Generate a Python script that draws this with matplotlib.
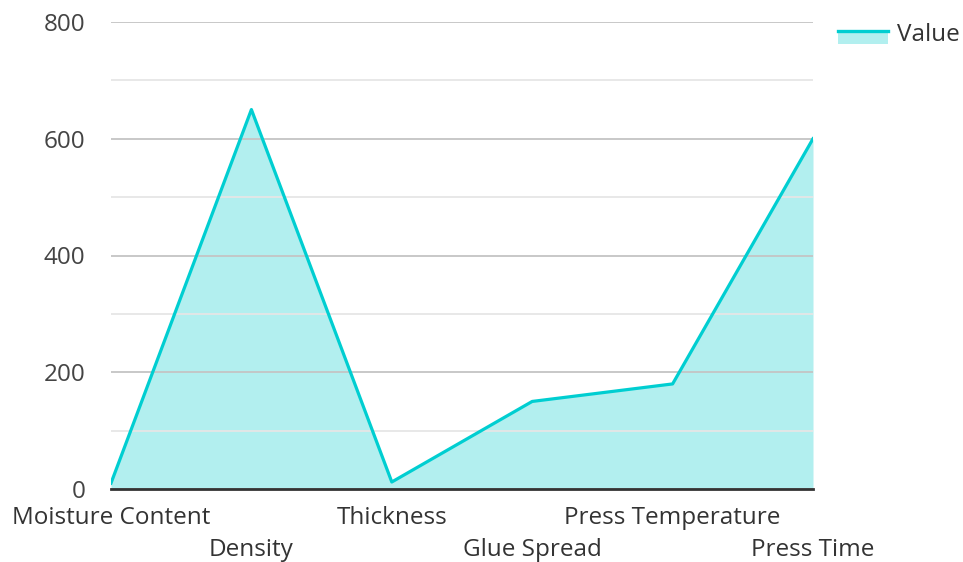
import matplotlib
matplotlib.use("Agg")
import matplotlib.pyplot as plt
from matplotlib.legend_handler import HandlerBase
from matplotlib.patches import Rectangle
from matplotlib.lines import Line2D
from matplotlib.ticker import MultipleLocator

plt.rcParams['font.family'] = ['Open Sans', 'DejaVu Sans']

# data
categories = ["Moisture Content", "Density", "Thickness", "Glue Spread", "Press Temperature", "Press Time"]
values = [10, 650, 12, 150, 180, 600]
series_name = "Value"

line_color = "#00CED1"
fill_color = "#B2EFEF"


# legend handle: line on top with the filled area below it
class AreaHandler(HandlerBase):
    def create_artists(self, legend, orig_handle, xdescent, ydescent, width, height, fontsize, trans):
        mid = height / 2 - ydescent + 1
        rect = Rectangle((-xdescent, mid - 9.5), width, 9.5, facecolor=fill_color, edgecolor="none", transform=trans)
        line = Line2D([-xdescent, width - xdescent], [mid, mid], color=line_color, lw=2.4, transform=trans)
        return [rect, line]


fig = plt.figure(figsize=(9.63, 5.62), dpi=100)
ax = fig.add_axes([111 / 963, 73 / 562, 702 / 963, 467 / 562])

x = list(range(len(categories)))
ax.fill_between(x, values, 0, color=fill_color, lw=0, zorder=1)
ax.plot(x, values, color=line_color, lw=2.3, zorder=2)

ax.set_xlim(0, len(categories) - 1)
ax.set_ylim(0, 800)
ax.yaxis.set_major_locator(MultipleLocator(200))
ax.yaxis.set_minor_locator(MultipleLocator(100))
ax.set_axisbelow("line")
ax.grid(True, which="major", axis="y", color="#C4C4C4", lw=1.3)
ax.grid(True, which="minor", axis="y", color="#E6E6E6", lw=1.3)

# staggered category labels (every second one pushed down a row)
ax.set_xticks(x)
ax.set_xticklabels(categories, fontsize=17.5, color="#333333")
ax.tick_params(axis="x", length=0, pad=12)
for i, tick in enumerate(ax.xaxis.get_major_ticks()):
    if i % 2 == 1:
        tick.set_pad(35)
ax.tick_params(axis="y", which="both", length=0, pad=18.5, labelsize=17.5, labelcolor="#444444")

for s in ["top", "right", "left"]:
    ax.spines[s].set_visible(False)
ax.spines["bottom"].set_color("#333333")
ax.spines["bottom"].set_linewidth(2)
ax.spines["bottom"].set_zorder(3)

handle = Rectangle((0, 0), 1, 1)
fig.legend([handle], [series_name], handler_map={Rectangle: AreaHandler()},
           loc="upper left", bbox_to_anchor=(838 / 963, 1 - 23 / 562),
           frameon=False, fontsize=17.5, handlelength=2.06, handletextpad=0.37,
           borderpad=0, borderaxespad=0, labelcolor="#333333")

fig.savefig("out.png", dpi=100)
